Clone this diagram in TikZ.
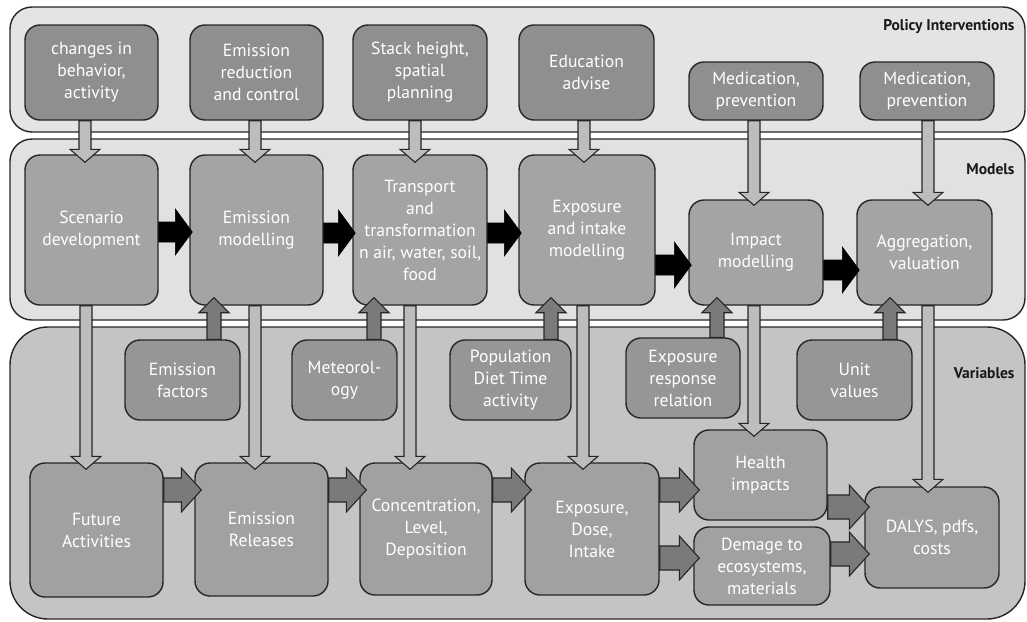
\documentclass[tikz,border=0pt]{standalone}
\usepackage{fontspec}
\usetikzlibrary{calc}
\newfontfamily\boxfont{PT Sans}
\definecolor{bandtop}{HTML}{E4E4E4}
\definecolor{bandmid}{HTML}{E1E1E1}
\definecolor{bandbot}{HTML}{C4C4C4}
\definecolor{polc}{HTML}{8F8F8F}
\definecolor{modc}{HTML}{A4A4A4}
\definecolor{inpc}{HTML}{969696}
\definecolor{varc}{HTML}{A1A1A1}
\definecolor{lightarr}{HTML}{BDBDBD}
\definecolor{darkarr}{HTML}{7A7A7A}
\definecolor{bordc}{HTML}{262626}
\tikzset{
  band/.style={draw=bordc, line width=1.4pt},
  box/.style={draw=bordc, line width=1.4pt, rounded corners=15pt, text=white, align=center,
    inner sep=0pt, font=\boxfont\fontsize{17.6}{22}\selectfont},
  polbox/.style={box, fill=polc},
  modbox/.style={box, fill=modc},
  inpbox/.style={box, fill=inpc},
  varbox/.style={box, fill=varc},
  bandlabel/.style={anchor=east, font=\boxfont\bfseries\fontsize{15.5}{18}\selectfont, text=black!90},
  blackarr/.style={fill=black, draw=black, line width=0.6pt, line join=miter},
  lightarrow/.style={fill=lightarr, draw=bordc, line width=1.1pt},
  darkarrow/.style={fill=darkarr, draw=bordc, line width=1.1pt},
}
% box with pixel corners: name, x1, y1, x2, y2, style, text
\newcommand\boxat[7]{\node[#6, minimum width={#4-#2}, minimum height={#5-#3}] (#1) at ({(#2+#4)/2},{(#3+#5)/2}) {#7};}
% horizontal block arrow: style, from, to, y, overshoot, halfshaft, halfhead, headlen
\newcommand\harrow[8]{\path[#1] let \p1=(#2.east |- 0,#4), \p2=(#3.west |- 0,#4) in
  (\x1,\y1+#6pt) -- (\x2+#5pt-#8pt,\y1+#6pt) -- (\x2+#5pt-#8pt,\y1+#7pt) -- (\x2+#5pt,\y1)
  -- (\x2+#5pt-#8pt,\y1-#7pt) -- (\x2+#5pt-#8pt,\y1-#6pt) -- (\x1,\y1-#6pt) -- cycle;}
% downward block arrow: style, from, to, x, overshoot, halfshaft, halfhead, headlen
\newcommand\darrow[8]{\path[#1] let \p1=(#2.south -| #4,0), \p2=(#3.north -| #4,0) in
  (\x1-#6pt,\y1) -- (\x1-#6pt,\y2-#5pt+#8pt) -- (\x1-#7pt,\y2-#5pt+#8pt) -- (\x1,\y2-#5pt)
  -- (\x1+#7pt,\y2-#5pt+#8pt) -- (\x1+#6pt,\y2-#5pt+#8pt) -- (\x1+#6pt,\y1) -- cycle;}
% upward block arrow: style, from, to, x, overshoot, halfshaft, halfhead, headlen
\newcommand\uarrow[8]{\path[#1] let \p1=(#2.north -| #4,0), \p2=(#3.south -| #4,0) in
  (\x1-#6pt,\y1) -- (\x1-#6pt,\y2+#5pt-#8pt) -- (\x1-#7pt,\y2+#5pt-#8pt) -- (\x1,\y2+#5pt)
  -- (\x1+#7pt,\y2+#5pt-#8pt) -- (\x1+#6pt,\y2+#5pt-#8pt) -- (\x1+#6pt,\y1) -- cycle;}
\begin{document}
\begin{tikzpicture}[x=1pt,y=-1pt]
\useasboundingbox[fill=white] (0,0) rectangle (1027,621);
% bands
\draw[band, fill=bandtop, rounded corners=22pt] (10,7) rectangle (1025,132);
\draw[band, fill=bandmid, rounded corners=22pt] (10,139) rectangle (1025,320);
\draw[band, fill=bandbot, rounded corners=38pt] (10,327) rectangle (1025,619);
\node[bandlabel] (lpol) at (1018,27) {Policy Interventions};
\node[bandlabel] (lmod) at (1018,169) {Models};
\node[bandlabel] (lvar) at (1018,373) {Variables};
% policy boxes
\boxat{p1}{25}{25}{158}{120}{polbox}{changes in\\behavior,\\activity}
\boxat{p2}{190}{25}{323}{120}{polbox}{Emission\\reduction\\and control}
\boxat{p3}{353}{25}{487}{120}{polbox}{Stack height,\\spatial\\planning}
\boxat{p4}{519}{25}{654}{120}{polbox}{Education\\advise}
\boxat{p5}{689}{62}{823}{120}{polbox}{Medication,\\prevention}
\boxat{p6}{860}{62}{994}{120}{polbox}{Medication,\\prevention}
% model boxes
\boxat{m1}{25}{155}{158}{305}{modbox}{Scenario\\development}
\boxat{m2}{190}{155}{323}{305}{modbox}{Emission\\modelling}
\boxat{m3}{353}{155}{487}{305}{modbox}{Transport\\and\\transformation\\n air, water, soil,\\food}
\boxat{m4}{519}{155}{655}{305}{modbox}{Exposure\\and intake\\modelling}
\boxat{m5}{689}{200}{823}{305}{modbox}{Impact\\modelling}
\boxat{m6}{857}{200}{992}{305}{modbox}{Aggregation,\\valuation}
% input variable boxes
\boxat{i1}{125}{340}{240}{420}{inpbox}{Emission\\factors}
\boxat{i2}{292}{340}{397}{420}{inpbox}{Meteorol-\\ogy}
\boxat{i3}{450}{340}{571}{420}{inpbox}{Population\\Diet Time\\activity}
\boxat{i4}{626}{338}{740}{418}{inpbox}{Exposure\\response\\relation}
\boxat{i5}{797}{340}{912}{420}{inpbox}{Unit\\values}
% bottom variable boxes
\boxat{v1}{30}{463}{163}{597}{varbox}{Future\\Activities}
\boxat{v2}{195}{463}{328}{596}{varbox}{Emission\\Releases}
\boxat{v3}{360}{463}{492}{595}{varbox}{Concentration,\\Level,\\Deposition}
\boxat{v4}{525}{463}{659}{595}{varbox}{Exposure,\\Dose,\\Intake}
\boxat{v5}{694}{430}{827}{520}{varbox}{Health\\impacts}
\boxat{v6}{694}{527}{830}{605}{varbox}{Demage to\\ecosystems,\\materials}
\boxat{v7}{865}{487}{999}{588}{varbox}{DALYS, pdfs,\\costs}
% black arrows between models
\harrow{blackarr}{m1}{m2}{232}{3}{10}{23}{17}
\harrow{blackarr}{m2}{m3}{233}{3}{10}{23}{17}
\harrow{blackarr}{m3}{m4}{233}{3}{10}{23}{17}
\harrow{blackarr}{m4}{m5}{265}{3}{10}{23}{17}
\harrow{blackarr}{m5}{m6}{270}{3}{10}{23}{17}
% policy -> models
\darrow{lightarrow}{p1}{m1}{85}{8}{6}{15}{13}
\darrow{lightarrow}{p2}{m2}{255}{8}{6}{15}{13}
\darrow{lightarrow}{p3}{m3}{415}{8}{6}{15}{13}
\darrow{lightarrow}{p4}{m4}{584}{8}{6}{15}{13}
\darrow{lightarrow}{p5}{m5}{754}{6}{6}{15}{13}
\darrow{lightarrow}{p6}{m6}{928}{6}{6}{15}{13}
% models -> bottom variables
\darrow{lightarrow}{m1}{v1}{86}{7}{6}{15}{13}
\darrow{lightarrow}{m2}{v2}{255}{7}{6}{15}{13}
\darrow{lightarrow}{m3}{v3}{410}{7}{6}{15}{13}
\darrow{lightarrow}{m4}{v4}{583}{7}{6}{15}{13}
\darrow{lightarrow}{m5}{v5}{754}{7}{6}{15}{13}
\darrow{lightarrow}{m6}{v7}{928}{6}{6}{15}{13}
% inputs -> models
\uarrow{darkarrow}{i1}{m2}{214}{8}{7}{15}{15}
\uarrow{darkarrow}{i2}{m3}{374}{8}{7}{15}{15}
\uarrow{darkarrow}{i3}{m4}{551}{8}{7}{15}{15}
\uarrow{darkarrow}{i4}{m5}{717}{8}{7}{15}{15}
\uarrow{darkarrow}{i5}{m6}{890}{8}{7}{15}{15}
% bottom chain
\harrow{darkarrow}{v1}{v2}{490}{7}{12}{22}{20}
\harrow{darkarrow}{v2}{v3}{490}{7}{12}{22}{20}
\harrow{darkarrow}{v3}{v4}{490}{7}{12}{22}{20}
\harrow{darkarrow}{v4}{v5}{490}{6}{12}{22}{20}
\harrow{darkarrow}{v4}{v6}{558}{6}{12}{22}{20}
\harrow{darkarrow}{v5}{v7}{507}{5}{12}{22}{20}
\harrow{darkarrow}{v6}{v7}{554}{5}{12}{22}{20}
\end{tikzpicture}
\end{document}
